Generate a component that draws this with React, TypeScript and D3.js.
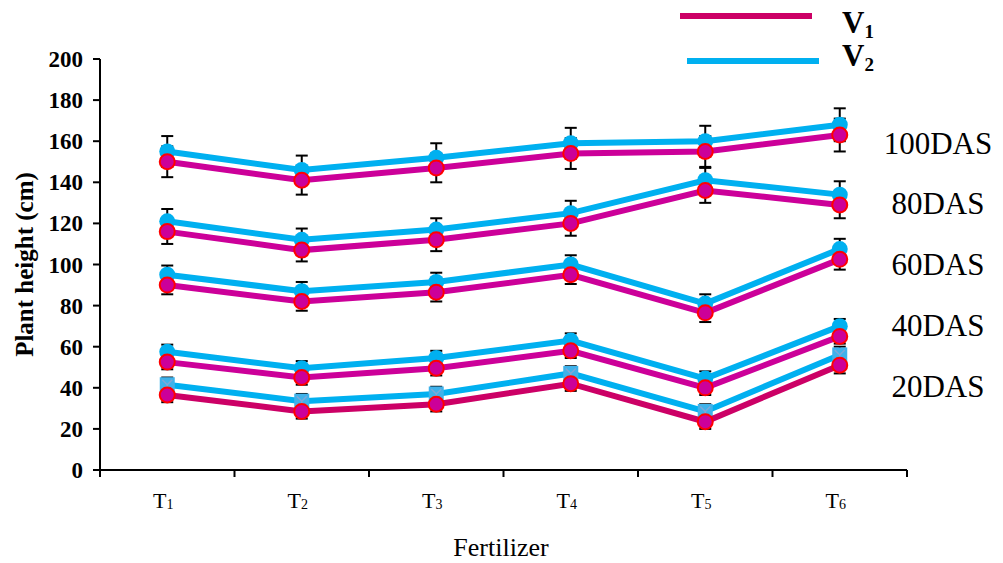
import React from "react";
import * as d3 from "d3";

// Fertilizer treatments on the x axis
const treatments = ["1", "2", "3", "4", "5", "6"];
const stages = ["20DAS", "40DAS", "60DAS", "80DAS", "100DAS"];
const yTicks = [0, 20, 40, 60, 80, 100, 120, 140, 160, 180, 200];

// Plant height (cm), variety V1
const v1_20 = [36.5, 28.5, 32, 42, 23.5, 51];
const v1_40 = [52.5, 45, 49.5, 58, 40, 65];
const v1_60 = [90, 82, 86.5, 95, 76.5, 102.5];
const v1_80 = [116, 107, 112, 120, 136, 129];
const v1_100 = [150, 141, 147, 154, 155, 163];

// Plant height (cm), variety V2
const v2_20 = [41.5, 33.5, 37, 47, 28.5, 56];
const v2_40 = [57.5, 49.5, 54.5, 63, 44.5, 70];
const v2_60 = [95, 87, 91.5, 100, 81, 107.5];
const v2_80 = [121, 112, 117, 125, 141, 134];
const v2_100 = [155, 146, 152, 159, 160, 168];

// Standard error for each stage
const err20 = [3.5, 3.5, 3.5, 3.5, 3.5, 4];
const err40 = [3.5, 3.5, 3.5, 3.5, 3.5, 3.5];
const err60 = [4.5, 4.5, 4.5, 4.5, 4.5, 5];
const err80 = [6, 5.5, 5.5, 6, 6, 6.5];
const err100 = [7.5, 7, 7, 7.5, 7.5, 8];

const v1Series = [v1_20, v1_40, v1_60, v1_80, v1_100];
const v2Series = [v2_20, v2_40, v2_60, v2_80, v2_100];
const errSeries = [err20, err40, err60, err80, err100];

const W = 1003;
const H = 563;
const left = 100;
const right = 907;
const top = 59;
const bottom = 470;

const PINK = "#CC0099";
const CRIMSON = "#CC0066";
const BLUE = "#00B0F0";
const SERIF = "'Liberation Serif', 'Times New Roman', serif";

export default function App() {
  const x = d3.scaleBand<string>().domain(treatments).range([left, right]).padding(0);
  const y = d3.scaleLinear().domain([0, 200]).range([bottom, top]);
  const cx = (i: number) => (x(treatments[i]) as number) + x.bandwidth() / 2;
  const line = d3
    .line<number>()
    .x((_, i) => cx(i))
    .y((d) => y(d));

  const boundaries = d3.range(treatments.length + 1).map((i) => left + i * x.bandwidth());
  // stage labels sit in a column to the right of the last treatment, evenly spaced
  const stageLabelY = (k: number) => y(41 + k * 29.55);

  const errorBars = (vals: number[], errs: number[], key: string) =>
    vals.map((v, i) => (
      <g key={key + i} stroke="#000" strokeWidth={2}>
        <line x1={cx(i)} x2={cx(i)} y1={y(v + errs[i])} y2={y(v - errs[i])} />
        <line x1={cx(i) - 6} x2={cx(i) + 6} y1={y(v + errs[i])} y2={y(v + errs[i])} />
        <line x1={cx(i) - 6} x2={cx(i) + 6} y1={y(v - errs[i])} y2={y(v - errs[i])} />
      </g>
    ));

  return (
    <svg width={W} height={H} style={{ position: "absolute", left: 0, top: 0 }}>
      <rect width={W} height={H} fill="#fff" />

      {/* axes */}
      <g stroke="#000" strokeWidth={2} fill="none">
        <line x1={left} x2={left} y1={top} y2={bottom} />
        <line x1={left} x2={right} y1={bottom} y2={bottom} />
        {yTicks.map((t) => (
          <line key={"yt" + t} x1={left - 7} x2={left} y1={y(t)} y2={y(t)} />
        ))}
        {boundaries.map((b, i) => (
          <line key={"xt" + i} x1={b} x2={b} y1={bottom} y2={bottom + 7} />
        ))}
      </g>
      {yTicks.map((t) => (
        <text
          key={"yl" + t}
          x={83}
          y={y(t)}
          dy="0.35em"
          textAnchor="end"
          fontFamily={SERIF}
          fontWeight="bold"
          fontSize={23}
        >
          {t}
        </text>
      ))}
      {treatments.map((t, i) => (
        <text key={"xl" + t} x={cx(i) - 4} y={508} textAnchor="middle" fontFamily={SERIF} fontSize={22}>
          T
          <tspan fontSize={14} dy={1}>
            {t}
          </tspan>
        </text>
      ))}
      <text x={501} y={556} textAnchor="middle" fontFamily={SERIF} fontSize={26}>
        Fertilizer
      </text>
      <text
        transform={`translate(33,${(top + bottom) / 2}) rotate(-90)`}
        textAnchor="middle"
        fontFamily={SERIF}
        fontWeight="bold"
        fontSize={25}
      >
        Plant height (cm)
      </text>

      {/* error bars */}
      {stages.map((s, k) => (
        <g key={"err" + s}>
          {errorBars(v2Series[k], errSeries[k], "e2" + s)}
          {errorBars(v1Series[k], errSeries[k], "e1" + s)}
        </g>
      ))}

      {/* series lines and markers */}
      {stages.map((s, k) => (
        <g key={"ser" + s}>
          <path d={line(v2Series[k]) as string} fill="none" stroke={BLUE} strokeWidth={6} />
          {v2Series[k].map((v, i) =>
            k === 0 ? (
              <g key={"m2" + i}>
                <rect x={cx(i) - 7.5} y={y(v) - 7.5} width={15} height={15} fill="#3FB2EA" />
                <path
                  d={`M${cx(i) - 5},${y(v) - 5}L${cx(i)},${y(v)}L${cx(i) + 5},${y(v) - 5}M${cx(i)},${y(v)}V${y(v) + 6}`}
                  stroke="#7FA8D8"
                  strokeWidth={1.5}
                  fill="none"
                />
              </g>
            ) : (
              <circle key={"m2" + i} cx={cx(i)} cy={y(v)} r={8} fill={BLUE} />
            )
          )}
          <path
            d={line(v1Series[k]) as string}
            fill="none"
            stroke={k === 0 ? CRIMSON : PINK}
            strokeWidth={6}
          />
          {v1Series[k].map((v, i) => (
            <circle key={"m1" + i} cx={cx(i)} cy={y(v)} r={7.5} fill={PINK} stroke="#FF0000" strokeWidth={2} />
          ))}
          <text
            x={938}
            y={stageLabelY(k)}
            dy="0.35em"
            textAnchor="middle"
            fontFamily={SERIF}
            fontSize={31}
          >
            {s}
          </text>
        </g>
      ))}

      {/* legend */}
      <line x1={680} x2={812} y1={16} y2={16} stroke={CRIMSON} strokeWidth={6} />
      <line x1={687} x2={819} y1={61} y2={61} stroke={BLUE} strokeWidth={6} />
      <text x={842} y={33} fontFamily={SERIF} fontWeight="bold" fontSize={31}>
        V<tspan fontSize={19} dy={5}>1</tspan>
      </text>
      <text x={842} y={66} fontFamily={SERIF} fontWeight="bold" fontSize={31}>
        V<tspan fontSize={19} dy={5}>2</tspan>
      </text>
    </svg>
  );
}
